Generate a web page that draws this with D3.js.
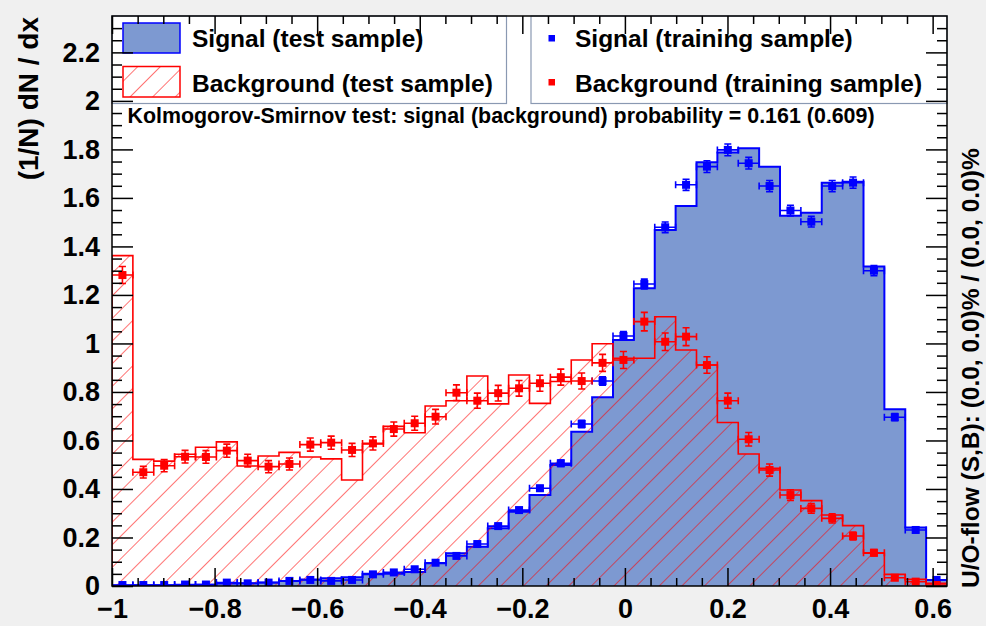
<!DOCTYPE html>
<html>
<head>
<meta charset="utf-8">
<script src="https://cdn.jsdelivr.net/npm/d3@7"></script>
<style>
  body { margin: 0; background: #f0f0f0; }
  svg { display: block; font-family: "Liberation Sans", Arial, Helvetica, sans-serif; font-weight: bold; }
</style>
</head>
<body>
<svg id="chart" width="986" height="626"></svg>
<script>
// ---- histogram binning ----
const xMin = -1, xMax = 0.628, nBins = 40;
const yMax = 2.35;

// ---- axis ticks ----
const xTicks = [-1, -0.8, -0.6, -0.4, -0.2, 0, 0.2, 0.4, 0.6];
const xTickLabels = ["\u22121", "\u22120.8", "\u22120.6", "\u22120.4", "\u22120.2", "0", "0.2", "0.4", "0.6"];
const yTicks = [0, 0.2, 0.4, 0.6, 0.8, 1, 1.2, 1.4, 1.6, 1.8, 2, 2.2];
const yTickLabels = ["0", "0.2", "0.4", "0.6", "0.8", "1", "1.2", "1.4", "1.6", "1.8", "2", "2.2"];

// ---- normalised classifier response, 40 bins ----
const signalTest = [0.002, 0.003, 0.003, 0.004, 0.005, 0.010, 0.011, 0.014, 0.021, 0.027,
  0.032, 0.036, 0.050, 0.050, 0.058, 0.094, 0.135, 0.162, 0.238, 0.306,
  0.375, 0.499, 0.636, 0.778, 1.014, 1.228, 1.468, 1.567, 1.747, 1.787,
  1.805, 1.729, 1.526, 1.539, 1.663, 1.667, 1.317, 0.729, 0.241, 0.025];

const signalTrain = [0.004, 0.004, 0.004, 0.006, 0.006, 0.014, 0.011, 0.014, 0.021, 0.025,
  0.021, 0.025, 0.048, 0.056, 0.069, 0.096, 0.124, 0.173, 0.247, 0.313,
  0.403, 0.506, 0.668, 0.845, 1.031, 1.245, 1.479, 1.654, 1.729, 1.798,
  1.743, 1.649, 1.548, 1.502, 1.649, 1.663, 1.300, 0.696, 0.231, 0.025];

const signalTrainErr = [0.001, 0.001, 0.001, 0.001, 0.001, 0.002, 0.002, 0.002, 0.003, 0.003,
  0.003, 0.003, 0.004, 0.004, 0.005, 0.006, 0.006, 0.007, 0.009, 0.010,
  0.011, 0.013, 0.015, 0.017, 0.018, 0.020, 0.022, 0.023, 0.024, 0.024,
  0.024, 0.023, 0.022, 0.022, 0.023, 0.023, 0.021, 0.015, 0.009, 0.003];

const backgroundTest = [1.362, 0.522, 0.515, 0.543, 0.572, 0.594, 0.495, 0.536, 0.551, 0.532,
  0.524, 0.437, 0.586, 0.658, 0.632, 0.742, 0.764, 0.866, 0.751, 0.870,
  0.753, 0.843, 0.932, 0.999, 0.939, 0.939, 1.110, 0.973, 0.911, 0.674,
  0.544, 0.485, 0.396, 0.352, 0.293, 0.249, 0.135, 0.048, 0.028, 0.011];

const backgroundTrain = [1.282, 0.469, 0.496, 0.533, 0.532, 0.558, 0.517, 0.492, 0.503, 0.583,
  0.591, 0.561, 0.588, 0.647, 0.671, 0.698, 0.797, 0.764, 0.795, 0.815,
  0.836, 0.861, 0.845, 0.920, 0.932, 1.090, 1.007, 1.028, 0.911, 0.764,
  0.605, 0.478, 0.375, 0.320, 0.279, 0.206, 0.137, 0.034, 0.018, 0.004];

const backgroundTrainErr = [0.035, 0.024, 0.025, 0.026, 0.026, 0.027, 0.026, 0.025, 0.025, 0.027,
  0.027, 0.027, 0.027, 0.029, 0.029, 0.030, 0.032, 0.031, 0.032, 0.032,
  0.033, 0.033, 0.033, 0.035, 0.035, 0.038, 0.036, 0.037, 0.034, 0.031,
  0.028, 0.025, 0.022, 0.020, 0.019, 0.016, 0.013, 0.007, 0.005, 0.002];

const ksText = "Kolmogorov-Smirnov test: signal (background) probability = 0.161 (0.609)";
const overflowText = "U/O-flow (S,B): (0.0, 0.0)% / (0.0, 0.0)%";

// ---- layout ----
const frame = { left: 112, right: 947, top: 16, bottom: 586 };
const signalFill = "#7d99d1";
const signalLine = "#0000ff";
const bkgLine = "#ff0000";
const legendBorder = "#8a99b2";

const svg = d3.select("#chart");
const x = d3.scaleLinear().domain([xMin, xMax]).range([frame.left, frame.right]);
const y = d3.scaleLinear().domain([0, yMax]).range([frame.bottom, frame.top]);

const binW = (xMax - xMin) / nBins;
const edges = d3.range(nBins + 1).map(i => xMin + i * binW);

const defs = svg.append("defs");
defs.append("clipPath").attr("id", "plotClip")
  .append("rect")
  .attr("x", frame.left).attr("y", frame.top)
  .attr("width", frame.right - frame.left).attr("height", frame.bottom - frame.top);

const hatch = defs.append("pattern").attr("id", "hatch")
  .attr("patternUnits", "userSpaceOnUse")
  .attr("width", 16).attr("height", 16)
  .attr("patternTransform", "rotate(45)");
hatch.append("line")
  .attr("x1", 0).attr("y1", -2).attr("x2", 0).attr("y2", 18)
  .attr("stroke", bkgLine).attr("stroke-width", 1.1);

// plot area background
svg.append("rect")
  .attr("x", frame.left).attr("y", frame.top)
  .attr("width", frame.right - frame.left).attr("height", frame.bottom - frame.top)
  .attr("fill", "#ffffff");

const plot = svg.append("g").attr("clip-path", "url(#plotClip)");

// step outline points: (edge_i, v_i) ... plus closing points at zero
function stepPoints(vals) {
  const pts = [[edges[0], 0]];
  vals.forEach((v, i) => pts.push([edges[i], v]));
  pts.push([edges[nBins], vals[nBins - 1]]);
  pts.push([edges[nBins], 0]);
  return pts;
}

const area = d3.area().curve(d3.curveStepAfter)
  .x(d => x(d[0])).y0(y(0)).y1(d => y(d[1]));
const line = d3.line().curve(d3.curveStepAfter)
  .x(d => x(d[0])).y(d => y(d[1]));

// signal (test sample)
plot.append("path").datum(stepPoints(signalTest))
  .attr("d", area).attr("fill", signalFill);
plot.append("path").datum(stepPoints(signalTest))
  .attr("d", line).attr("fill", "none")
  .attr("stroke", signalLine).attr("stroke-width", 2);

// background (test sample)
plot.append("path").datum(stepPoints(backgroundTest))
  .attr("d", area).attr("fill", "url(#hatch)");
plot.append("path").datum(stepPoints(backgroundTest))
  .attr("d", line).attr("fill", "none")
  .attr("stroke", bkgLine).attr("stroke-width", 1.6);

// training samples: markers with error bars
function drawPoints(vals, errs, color) {
  const g = plot.append("g").attr("stroke", color).attr("fill", color);
  const cap = 3.5, ms = 8;
  vals.forEach((v, i) => {
    const xl = x(edges[i]), xr = x(edges[i + 1]);
    const cx = x((edges[i] + edges[i + 1]) / 2);
    const cy = y(v);
    const yl = y(v - errs[i]), yh = y(v + errs[i]);
    const p = d3.path();
    p.moveTo(xl, cy); p.lineTo(xr, cy);
    p.moveTo(xl, cy - cap); p.lineTo(xl, cy + cap);
    p.moveTo(xr, cy - cap); p.lineTo(xr, cy + cap);
    p.moveTo(cx, yl); p.lineTo(cx, yh);
    p.moveTo(cx - cap, yl); p.lineTo(cx + cap, yl);
    p.moveTo(cx - cap, yh); p.lineTo(cx + cap, yh);
    g.append("path").attr("d", p.toString()).attr("fill", "none").attr("stroke-width", 1.6);
    g.append("rect")
      .attr("x", cx - ms / 2).attr("y", cy - ms / 2)
      .attr("width", ms).attr("height", ms).attr("stroke", "none");
  });
}
drawPoints(signalTrain, signalTrainErr, signalLine);
drawPoints(backgroundTrain, backgroundTrainErr, bkgLine);

// ---- legends ----
const legL = { x0: frame.left, x1: 506.5, y0: frame.top, y1: 103.5 };
const legR = { x0: 531, x1: frame.right, y0: frame.top, y1: 103.5 };
[legL, legR].forEach(b => {
  svg.append("rect")
    .attr("x", b.x0).attr("y", b.y0)
    .attr("width", b.x1 - b.x0).attr("height", b.y1 - b.y0)
    .attr("fill", "#ffffff").attr("stroke", legendBorder).attr("stroke-width", 1.2);
});

svg.append("rect").attr("x", 123).attr("y", 23).attr("width", 57).attr("height", 30)
  .attr("fill", signalFill).attr("stroke", signalLine).attr("stroke-width", 1.5);
svg.append("rect").attr("x", 123).attr("y", 66.5).attr("width", 57).attr("height", 30.5)
  .attr("fill", "url(#hatch)").attr("stroke", bkgLine).attr("stroke-width", 1.5);

const legendFont = 24.5;
svg.append("text").attr("x", 192).attr("y", 46.5).attr("font-size", legendFont)
  .attr("fill", "#000").text("Signal (test sample)");
svg.append("text").attr("x", 192).attr("y", 91.5).attr("font-size", legendFont)
  .attr("fill", "#000").text("Background (test sample)");

svg.append("rect").attr("x", 548.5).attr("y", 35).attr("width", 6.5).attr("height", 6.5).attr("fill", signalLine);
svg.append("rect").attr("x", 548.5).attr("y", 79).attr("width", 6.5).attr("height", 6.5).attr("fill", bkgLine);
svg.append("text").attr("x", 575).attr("y", 46.5).attr("font-size", legendFont)
  .attr("fill", "#000").text("Signal (training sample)");
svg.append("text").attr("x", 575).attr("y", 91.5).attr("font-size", legendFont)
  .attr("fill", "#000").text("Background (training sample)");

svg.append("text").attr("x", 127.5).attr("y", 123.3).attr("font-size", 21.4)
  .attr("fill", "#000").text(ksText);

// ---- axes ----
const xMinor = d3.range(-1, xMax, 0.05).map(v => Math.round(v * 100) / 100)
  .filter(v => !xTicks.some(t => Math.abs(t - v) < 1e-6));
const yMinor = d3.range(0, yMax, 0.05).map(v => Math.round(v * 100) / 100)
  .filter(v => !yTicks.some(t => Math.abs(t - v) < 1e-6));

function styleAxis(g) {
  g.select(".domain").remove();
  g.selectAll(".tick line").attr("stroke", "#000").attr("stroke-width", 1.5);
  g.selectAll("text").attr("fill", "#000").attr("font-size", 27)
    .attr("font-family", "\"Liberation Sans\", Arial, sans-serif").attr("font-weight", "bold");
}

// bottom
svg.append("g").attr("transform", `translate(0,${frame.bottom})`)
  .call(d3.axisBottom(x).tickValues(xTicks)
    .tickFormat((d, i) => xTickLabels[i]).tickSizeInner(-18).tickSizeOuter(0).tickPadding(13))
  .call(styleAxis);
svg.append("g").attr("transform", `translate(0,${frame.bottom})`)
  .call(d3.axisBottom(x).tickValues(xMinor).tickFormat("").tickSizeInner(-8).tickSizeOuter(0))
  .call(styleAxis);
// top
svg.append("g").attr("transform", `translate(0,${frame.top})`)
  .call(d3.axisTop(x).tickValues(xTicks).tickFormat("").tickSizeInner(-18).tickSizeOuter(0))
  .call(styleAxis);
svg.append("g").attr("transform", `translate(0,${frame.top})`)
  .call(d3.axisTop(x).tickValues(xMinor).tickFormat("").tickSizeInner(-8).tickSizeOuter(0))
  .call(styleAxis);
// left
svg.append("g").attr("transform", `translate(${frame.left},0)`)
  .call(d3.axisLeft(y).tickValues(yTicks)
    .tickFormat((d, i) => yTickLabels[i]).tickSizeInner(-21).tickSizeOuter(0).tickPadding(12))
  .call(styleAxis);
svg.append("g").attr("transform", `translate(${frame.left},0)`)
  .call(d3.axisLeft(y).tickValues(yMinor).tickFormat("").tickSizeInner(-10).tickSizeOuter(0))
  .call(styleAxis);
// right
svg.append("g").attr("transform", `translate(${frame.right},0)`)
  .call(d3.axisRight(y).tickValues(yTicks).tickFormat("").tickSizeInner(-21).tickSizeOuter(0))
  .call(styleAxis);
svg.append("g").attr("transform", `translate(${frame.right},0)`)
  .call(d3.axisRight(y).tickValues(yMinor).tickFormat("").tickSizeInner(-10).tickSizeOuter(0))
  .call(styleAxis);

// frame
svg.append("rect")
  .attr("x", frame.left).attr("y", frame.top)
  .attr("width", frame.right - frame.left).attr("height", frame.bottom - frame.top)
  .attr("fill", "none").attr("stroke", "#000").attr("stroke-width", 1.5);

// axis titles
svg.append("text")
  .attr("transform", `translate(38,17) rotate(-90)`)
  .attr("text-anchor", "end").attr("font-size", 28).attr("fill", "#000")
  .text("(1/N) dN / dx");

svg.append("text")
  .attr("transform", `translate(979,588) rotate(-90)`)
  .attr("text-anchor", "start").attr("font-size", 24.5).attr("fill", "#000")
  .text(overflowText);
</script>
</body>
</html>
